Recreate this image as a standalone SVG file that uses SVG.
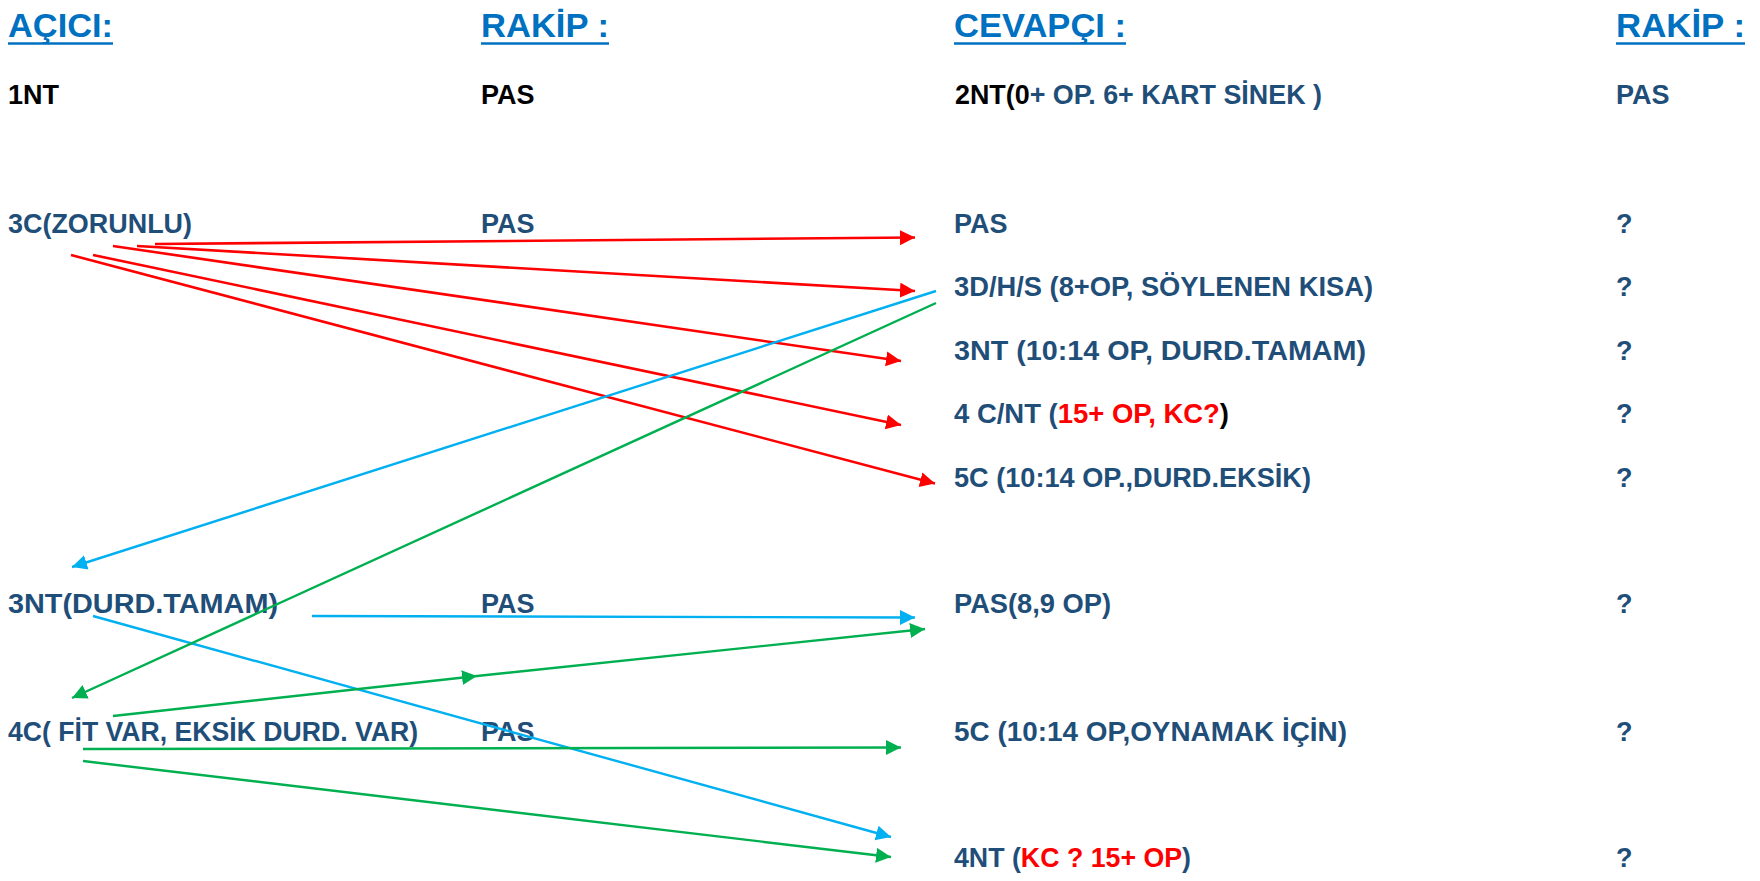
<svg xmlns="http://www.w3.org/2000/svg" width="1760" height="881" viewBox="0 0 1760 881">
  <style>
    text { font-family: "Liberation Sans", Arial, sans-serif; font-weight: bold; }
    .hdr { font-size: 33.5px; fill: #0070C0; }
    .t { font-size: 27px; fill: #1F4E79; }
    .k { fill: #000000; }
    .r { fill: #FF0000; }
    .ul { stroke: #0070C0; stroke-width: 2.7; }
    .red { stroke: #FF0000; stroke-width: 2.6; fill: none; marker-end: url(#ar); }
    .blue { stroke: #00B0F0; stroke-width: 2.4; fill: none; marker-end: url(#ab); }
    .green { stroke: #00B050; stroke-width: 2.4; fill: none; marker-end: url(#ag); }
  </style>
  <defs>
    <marker id="ar" markerUnits="userSpaceOnUse" markerWidth="16" markerHeight="16" refX="15" refY="7.5" orient="auto">
      <path d="M0,0 L15,7.5 L0,15 z" fill="#FF0000"/>
    </marker>
    <marker id="ab" markerUnits="userSpaceOnUse" markerWidth="16" markerHeight="16" refX="15" refY="7.5" orient="auto">
      <path d="M0,0 L15,7.5 L0,15 z" fill="#00B0F0"/>
    </marker>
    <marker id="ag" markerUnits="userSpaceOnUse" markerWidth="16" markerHeight="16" refX="15" refY="7.5" orient="auto">
      <path d="M0,0 L15,7.5 L0,15 z" fill="#00B050"/>
    </marker>
  </defs>
  <rect width="1760" height="881" fill="#FFFFFF"/>

  <!-- column headings -->
  <g id="headers">
    <text class="hdr" x="8" y="37" textLength="105" lengthAdjust="spacingAndGlyphs">AÇICI:</text>
    <line class="ul" x1="8" y1="43.5" x2="113" y2="43.5"/>
    <text class="hdr" x="481" y="37" textLength="128" lengthAdjust="spacingAndGlyphs">RAKİP :</text>
    <line class="ul" x1="481" y1="43.5" x2="609" y2="43.5"/>
    <text class="hdr" x="954" y="37" textLength="172" lengthAdjust="spacingAndGlyphs">CEVAPÇI :</text>
    <line class="ul" x1="954" y1="43.5" x2="1126" y2="43.5"/>
    <text class="hdr" x="1616" y="37" textLength="129" lengthAdjust="spacingAndGlyphs">RAKİP :</text>
    <line class="ul" x1="1616" y1="43.5" x2="1745" y2="43.5"/>
  </g>

  <!-- opening sequence -->
  <g id="row-1nt">
    <text class="t k" x="8" y="104">1NT</text>
    <text class="t k" x="481" y="104">PAS</text>
    <text class="t" x="955" y="104" textLength="367" lengthAdjust="spacingAndGlyphs"><tspan class="k">2NT(0</tspan>+ OP. 6+ KART SİNEK )</text>
    <text class="t" x="1616" y="104">PAS</text>
  </g>

  <!-- opener's rebids -->
  <g id="node-3c">
    <text class="t" x="8" y="233" textLength="184" lengthAdjust="spacingAndGlyphs">3C(ZORUNLU)</text>
    <text class="t" x="481" y="233">PAS</text>
  </g>
  <g id="node-3nt-durd">
    <text class="t" x="8" y="613" textLength="270" lengthAdjust="spacingAndGlyphs">3NT(DURD.TAMAM)</text>
    <text class="t" x="481" y="613">PAS</text>
  </g>
  <g id="node-4c">
    <text class="t" x="8" y="741" textLength="410" lengthAdjust="spacingAndGlyphs">4C( FİT VAR, EKSİK DURD. VAR)</text>
    <text class="t" x="481" y="741">PAS</text>
  </g>

  <!-- responder's answers -->
  <g id="node-pas">
    <text class="t" x="954" y="233">PAS</text>
    <text class="t" x="1616" y="233">?</text>
  </g>
  <g id="node-3dhs">
    <text class="t" x="954" y="296" textLength="419" lengthAdjust="spacingAndGlyphs">3D/H/S (8+OP, SÖYLENEN KISA)</text>
    <text class="t" x="1616" y="296">?</text>
  </g>
  <g id="node-3nt">
    <text class="t" x="954" y="360" textLength="412" lengthAdjust="spacingAndGlyphs">3NT (10:14 OP, DURD.TAMAM)</text>
    <text class="t" x="1616" y="360">?</text>
  </g>
  <g id="node-4cnt">
    <text class="t" x="954" y="423" textLength="275" lengthAdjust="spacingAndGlyphs">4 C/NT (<tspan class="r">15+ OP, KC?</tspan><tspan class="k">)</tspan></text>
    <text class="t" x="1616" y="423">?</text>
  </g>
  <g id="node-5c">
    <text class="t" x="954" y="487" textLength="357" lengthAdjust="spacingAndGlyphs">5C (10:14 OP.,DURD.EKSİK)</text>
    <text class="t" x="1616" y="487">?</text>
  </g>
  <g id="node-pas89">
    <text class="t" x="954" y="613" textLength="157" lengthAdjust="spacingAndGlyphs">PAS(8,9 OP)</text>
    <text class="t" x="1616" y="613">?</text>
  </g>
  <g id="node-5c-play">
    <text class="t" x="954" y="741" textLength="393" lengthAdjust="spacingAndGlyphs">5C (10:14 OP,OYNAMAK İÇİN)</text>
    <text class="t" x="1616" y="741">?</text>
  </g>
  <g id="node-4nt">
    <text class="t" x="954" y="867" textLength="237" lengthAdjust="spacingAndGlyphs">4NT (<tspan class="r">KC ? 15+ OP</tspan>)</text>
    <text class="t" x="1616" y="867">?</text>
  </g>

  <!-- connectors -->
  <g id="connectors">
    <line class="red" x1="155" y1="244" x2="915" y2="237.5"/>
    <line class="red" x1="137" y1="246" x2="915" y2="291"/>
    <line class="red" x1="113" y1="246" x2="901" y2="361"/>
    <line class="red" x1="93" y1="255" x2="901" y2="425"/>
    <line class="red" x1="71" y1="255" x2="935" y2="483.5"/>

    <line class="blue" x1="936" y1="291" x2="72" y2="567"/>
    <line class="blue" x1="312" y1="616" x2="915" y2="617.5"/>
    <line class="blue" x1="93" y1="616" x2="891" y2="837"/>

    <line class="green" x1="936" y1="303" x2="72" y2="698"/>
    <polyline class="green" style="marker-mid: url(#ag)" points="113,716 477,676 925,629"/>
    <line class="green" x1="83" y1="749" x2="901" y2="747.5"/>
    <line class="green" x1="83" y1="761" x2="891" y2="857"/>
  </g>
</svg>
